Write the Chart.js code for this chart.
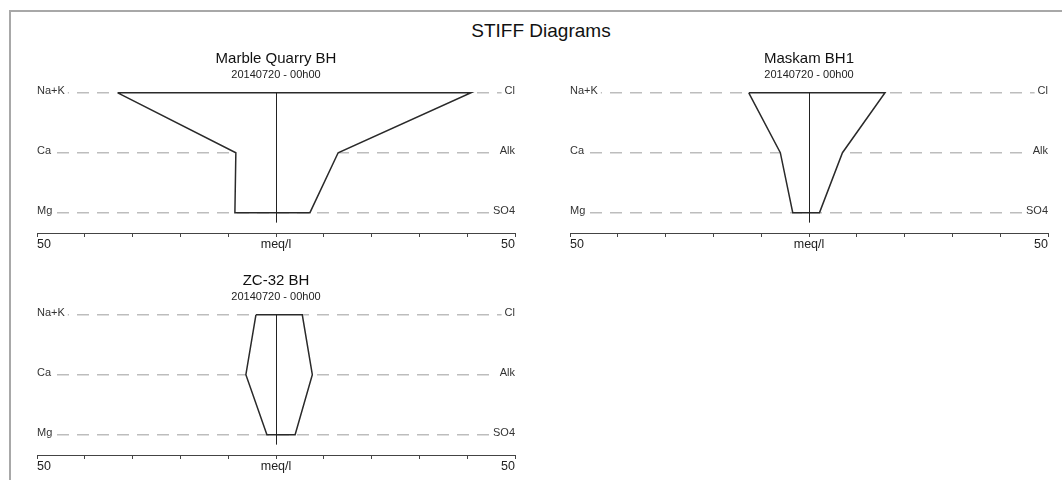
<!DOCTYPE html>
<html>
<head>
<meta charset="utf-8">
<title>STIFF Diagrams</title>
<script src="https://cdn.jsdelivr.net/npm/chart.js@4.4.1/dist/chart.umd.min.js"></script>
<style>
    body { margin: 0; background: #fff; font-family: "Liberation Sans", Arial, sans-serif; }
    #frame { position: absolute; left: 9px; top: 10px; width: 1100px; height: 520px;
             border-top: 2px solid #a8a8a8; border-left: 2px solid #a8a8a8; }
    #mainTitle { position: absolute; left: 0; top: 20px; width: 1082px; text-align: center;
                 font-size: 19px; line-height: 22px; color: #111; }
    canvas { position: absolute; }
</style>
</head>
<body>
<div id="frame"></div>
<div id="mainTitle">STIFF Diagrams</div>
<canvas id="stiffMarble" width="520" height="212" style="left:16px;top:44px"></canvas>
<canvas id="stiffMaskam" width="520" height="212" style="left:549px;top:44px"></canvas>
<canvas id="stiffZc32" width="520" height="212" style="left:16px;top:266px"></canvas>
<script>
// Diagramas de Stiff: cationes a la izquierda, aniones a la derecha (meq/l)

const cations = ['Na+K', 'Ca', 'Mg'];
const anions = ['Cl', 'Alk', 'SO4'];
const sampleDate = '20140720 - 00h00';
const axisTicks = [-50, -40, -30, -20, -10, 0, 10, 20, 30, 40, 50];

const marbleCations = [33.1, 8.4, 8.6];
const marbleAnions = [40.8, 13.0, 7.1];

const maskamCations = [12.6, 6.0, 3.4];
const maskamAnions = [15.9, 7.0, 2.2];

const zc32Cations = [4.2, 6.3, 1.9];
const zc32Anions = [5.5, 7.6, 4.0];

Chart.defaults.font.family = '"Liberation Sans", Arial, sans-serif';
Chart.defaults.color = '#222';

// linea central en cero, un poco por debajo de la ultima fila
const centreLine = {
    id: 'centreLine',
    afterDatasetsDraw(chart) {
        const { ctx, scales: { x, y } } = chart;
        const px = Math.round(x.getPixelForValue(0)) + 0.5;
        ctx.save();
        ctx.strokeStyle = '#222';
        ctx.lineWidth = 1;
        ctx.beginPath();
        ctx.moveTo(px, y.getPixelForValue(0));
        ctx.lineTo(px, y.getPixelForValue(cations.length - 1) + 10);
        ctx.stroke();
        ctx.restore();
    }
};

function poligonoStiff(cat, an) {
    const pts = [];
    cat.forEach((v, i) => pts.push({ x: -v, y: i }));
    for (let i = an.length - 1; i >= 0; i--) pts.push({ x: an[i], y: i });
    pts.push(pts[0]);
    return pts;
}

function filaTicks(scale) {
    scale.ticks = cations.map((_, i) => ({ value: i }));
}

function crearStiff(canvasId, pozo, cat, an) {
    const ctx = document.getElementById(canvasId).getContext('2d');
    return new Chart(ctx, {
        type: 'scatter',
        data: {
            datasets: [{
                data: poligonoStiff(cat, an),
                showLine: true,
                borderColor: '#2a2a2a',
                borderWidth: 1.5,
                backgroundColor: '#fff',
                fill: 'shape',
                pointRadius: 0,
                tension: 0
            }]
        },
        options: {
            responsive: false,
            animation: false,
            layout: { padding: { left: 21, right: 21, top: 0, bottom: 4 } },
            plugins: {
                legend: { display: false },
                tooltip: { enabled: false },
                title: {
                    display: true,
                    text: pozo,
                    color: '#111',
                    font: { size: 15, weight: 'normal' },
                    padding: { top: 6, bottom: 0 }
                },
                subtitle: {
                    display: true,
                    text: sampleDate,
                    color: '#222',
                    font: { size: 11 },
                    padding: { top: 0, bottom: 8 }
                }
            },
            scales: {
                x: {
                    type: 'linear',
                    min: -50,
                    max: 50,
                    afterBuildTicks: s => { s.ticks = axisTicks.map(v => ({ value: v })); },
                    border: { display: true, color: '#444', width: 1 },
                    grid: { drawOnChartArea: false, tickLength: 4, color: '#444' },
                    ticks: {
                        autoSkip: false,
                        maxRotation: 0,
                        align: 'inner',
                        padding: 0,
                        font: { size: 12.5 },
                        color: '#222',
                        callback: v => v === 0 ? 'meq/l' : (Math.abs(v) === 50 ? '50' : '')
                    }
                },
                y: {
                    type: 'linear',
                    position: 'left',
                    reverse: true,
                    min: -0.06,
                    max: 2.34,
                    afterBuildTicks: filaTicks,
                    border: { display: false, dash: [12, 8] },
                    grid: { color: '#bdbdbd', lineWidth: 1.5, drawTicks: false },
                    ticks: {
                        mirror: true,
                        padding: 0,
                        labelOffset: -2,
                        showLabelBackdrop: true,
                        backdropColor: '#fff',
                        backdropPadding: { top: 0, bottom: 0, left: 0, right: 3 },
                        font: { size: 11 },
                        color: '#333',
                        callback: v => cations[v]
                    }
                },
                y2: {
                    type: 'linear',
                    position: 'right',
                    reverse: true,
                    min: -0.06,
                    max: 2.34,
                    afterBuildTicks: filaTicks,
                    border: { display: false },
                    grid: { display: false, drawTicks: false },
                    ticks: {
                        mirror: true,
                        padding: 0,
                        labelOffset: -2,
                        showLabelBackdrop: true,
                        backdropColor: '#fff',
                        backdropPadding: { top: 0, bottom: 0, left: 3, right: 0 },
                        font: { size: 11 },
                        color: '#333',
                        callback: v => anions[v]
                    }
                }
            }
        },
        plugins: [centreLine]
    });
}

crearStiff('stiffMarble', 'Marble Quarry BH', marbleCations, marbleAnions);
crearStiff('stiffMaskam', 'Maskam BH1', maskamCations, maskamAnions);
crearStiff('stiffZc32', 'ZC-32 BH', zc32Cations, zc32Anions);
</script>
</body>
</html>
